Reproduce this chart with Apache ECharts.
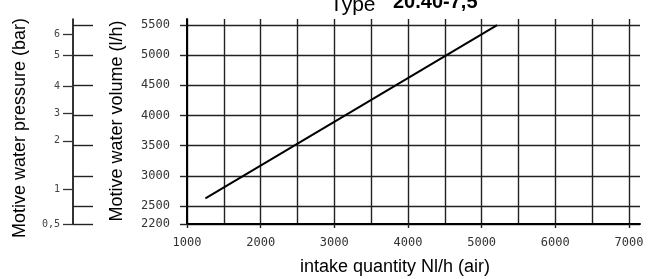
<!DOCTYPE html>
<html>
<head>
<meta charset="utf-8">
<script src="https://cdn.jsdelivr.net/npm/echarts@6/dist/echarts.min.js"></script>
<style>
  html, body { margin: 0; padding: 0; background: #fff; }
  #chart { width: 650px; height: 279px; }
</style>
</head>
<body>
<div id="chart"></div>
<script>
// intake quantity (Nl/h air) vs motive water volume (l/h)
const lineIntake = [1250, 5210];
const lineVolume = [2625, 5500];

// axis ticks
const intakeGrid = [1000, 1500, 2000, 2500, 3000, 3500, 4000, 4500, 5000, 5500, 6000, 6500, 7000];
const intakeLabels = [1000, 2000, 3000, 4000, 5000, 6000, 7000];
const volumeTicks = [2200, 2500, 3000, 3500, 4000, 4500, 5000, 5500];

// pressure scale (bar), read against the volume scale it sits beside
const pressureLabels = ['0,5', '1', '2', '3', '4', '5', '6'];
const pressureAtVolume = [2200, 2780, 3580, 4040, 4490, 5000, 5350];

const chart = echarts.init(document.getElementById('chart'));

const gridLine = { color: '#222', width: 1.4 };
const tickFont = { fontFamily: 'DejaVu Sans Mono', fontSize: 12, color: '#333', formatter: v => String(v) };

const option = {
  animation: false,
  backgroundColor: '#fff',
  grid: { left: 187, right: 10, top: 19, bottom: 55 },
  xAxis: [
    {
      type: 'value', min: 1000, max: 7150,
      axisLine: { lineStyle: { color: '#000', width: 2 } },
      axisTick: { show: false, customValues: intakeGrid },
      axisLabel: Object.assign({ customValues: intakeLabels, margin: 13 }, tickFont),
      splitLine: { show: true, lineStyle: gridLine }
    },
    {
      type: 'value', min: 1000, max: 7150, position: 'bottom',
      axisLine: { show: false },
      axisTick: { customValues: intakeLabels, length: 4, lineStyle: { color: '#222', width: 1.4 } },
      axisLabel: { show: false },
      splitLine: { show: false }
    }
  ],
  yAxis: [
    {
      type: 'value', min: 2200, max: 5600,
      axisLine: { show: true, lineStyle: { color: '#000', width: 2 } },
      axisTick: { show: true, customValues: volumeTicks, length: 7, lineStyle: { color: '#222', width: 1.4 } },
      axisLabel: Object.assign({ customValues: volumeTicks, margin: 17 }, tickFont),
      splitLine: { show: true, lineStyle: gridLine }
    },
    {
      type: 'value', min: 2200, max: 5600, position: 'left', offset: 114,
      axisLine: { show: true, lineStyle: { color: '#000', width: 1.6 } },
      axisTick: { show: true, customValues: pressureAtVolume, length: 10, lineStyle: { color: '#333', width: 1.3 } },
      axisLabel: {
        customValues: pressureAtVolume, margin: 13,
        fontFamily: 'DejaVu Sans Mono', fontSize: 10, color: '#444',
        formatter: v => pressureLabels[pressureAtVolume.indexOf(v)]
      },
      splitLine: { show: false }
    },
    {
      type: 'value', min: 2200, max: 5600, position: 'left', offset: 114,
      axisLine: { show: false },
      axisTick: { show: true, inside: true, customValues: volumeTicks, length: 20, lineStyle: { color: '#222', width: 1.4 } },
      axisLabel: { show: false },
      splitLine: { show: false }
    }
  ],
  graphic: [
    { type: 'text', x: 330, y: 5, style: { text: 'Type', font: '21px "Liberation Sans"', fill: '#000', verticalAlign: 'middle' } },
    { type: 'text', x: 393, y: 2, style: { text: '20.40-7,5', font: 'bold 20px "Liberation Sans"', fill: '#000', verticalAlign: 'middle' } },
    { type: 'text', x: 395, y: 267, style: { text: 'intake quantity Nl/h (air)', font: '18px "Liberation Sans"', fill: '#000', align: 'center', verticalAlign: 'middle' } },
    { type: 'text', x: 20, y: 128, rotation: Math.PI / 2, style: { text: 'Motive water pressure (bar)', font: '18px "Liberation Sans"', fill: '#000', align: 'center', verticalAlign: 'middle' } },
    { type: 'text', x: 117, y: 121, rotation: Math.PI / 2, style: { text: 'Motive water volume (l/h)', font: '18px "Liberation Sans"', fill: '#000', align: 'center', verticalAlign: 'middle' } }
  ],
  series: [
    {
      type: 'line',
      xAxisIndex: 0, yAxisIndex: 0,
      data: lineIntake.map((x, i) => [x, lineVolume[i]]),
      symbol: 'none',
      lineStyle: { color: '#000', width: 2 }
    }
  ]
};

chart.setOption(option);
</script>
</body>
</html>
